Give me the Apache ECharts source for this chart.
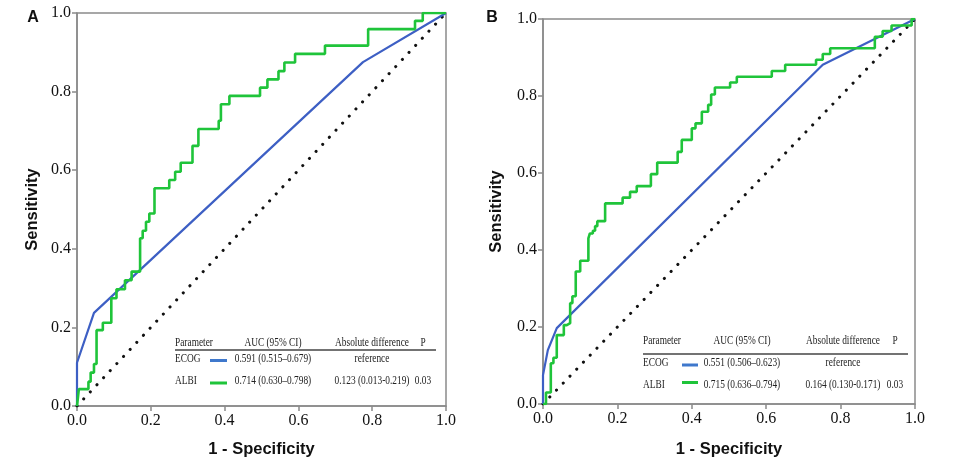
<!DOCTYPE html>
<html><head><meta charset="utf-8">
<script src="https://cdn.jsdelivr.net/npm/echarts@6/dist/echarts.min.js"></script>
<style>html,body{margin:0;padding:0;background:#fff}#c{width:960px;height:473px}</style>
</head><body><div id="c"></div>
<script>
const panelLabels = ['A', 'B'];
const tickLabels = ['0.0', '0.2', '0.4', '0.6', '0.8', '1.0'];
const xTitle = '1 - Specificity';
const yTitle = 'Sensitivity';

const ecogA = [[0,0],[0,0.11],[0.046,0.237],[0.775,0.875],[1,1]];
const albiA = [[0,0],[0.005,0.043],[0.031,0.062],[0.037,0.085],[0.046,0.107],[0.053,0.193],
  [0.07,0.212],[0.093,0.274],[0.107,0.297],[0.13,0.32],[0.148,0.342],[0.171,0.427],
  [0.178,0.446],[0.187,0.469],[0.196,0.49],[0.21,0.554],[0.25,0.575],[0.266,0.596],
  [0.281,0.619],[0.313,0.662],[0.329,0.705],[0.384,0.726],[0.39,0.768],[0.413,0.789],
  [0.496,0.81],[0.516,0.831],[0.546,0.852],[0.562,0.874],[0.591,0.896],[0.672,0.917],
  [0.789,0.959],[0.916,0.98],[0.937,1.0],[1,1]];
const ecogB = [[0,0],[0,0.075],[0.013,0.14],[0.037,0.197],[0.752,0.881],[1,1]];
const albiB = [[0,0],[0.008,0.03],[0.021,0.106],[0.028,0.12],[0.037,0.179],[0.056,0.205],
  [0.064,0.21],[0.073,0.262],[0.079,0.28],[0.088,0.344],[0.1,0.372],[0.122,0.43],
  [0.126,0.443],[0.134,0.45],[0.14,0.462],[0.146,0.475],[0.167,0.521],[0.214,0.536],
  [0.234,0.551],[0.252,0.566],[0.29,0.597],[0.307,0.627],[0.362,0.655],[0.373,0.686],
  [0.4,0.716],[0.41,0.729],[0.427,0.759],[0.444,0.777],[0.452,0.804],[0.462,0.822],
  [0.503,0.835],[0.521,0.85],[0.615,0.865],[0.651,0.881],[0.734,0.894],[0.752,0.909],
  [0.772,0.924],[0.892,0.954],[0.913,0.969],[0.937,0.983],[0.991,1.0],[1,1]];
const refLine = [[0,0],[1,1]];

const tableHeader = ['Parameter', 'AUC (95% CI)', 'Absolute difference', 'P'];
const tableA = [['ECOG', '0.591 (0.515–0.679)', 'reference', ''],
                ['ALBI', '0.714 (0.630–0.798)', '0.123 (0.013-0.219)', '0.03']];
const tableB = [['ECOG', '0.551 (0.506–0.623)', 'reference', ''],
                ['ALBI', '0.715 (0.636–0.794)', '0.164 (0.130-0.171)', '0.03']];

const BLUE = '#3d5fc4', GREEN = '#1fc43a', AXC = '#8a8a8a';
const SERIF = '"Liberation Serif", "Times New Roman", serif';
const SANS = '"Liberation Sans", Arial, sans-serif';

const grids = [
  {left: 77, top: 13, width: 369, height: 393},
  {left: 543, top: 19, width: 372, height: 385}
].map(g => Object.assign(g, {show: true, borderColor: AXC, borderWidth: 1.5, backgroundColor: 'transparent'}));

const fmt = v => tickLabels[Math.round(v * 5)];

function xAx(i, gap) {
  return {type: 'value', gridIndex: i, min: 0, max: 1, interval: 0.2,
    name: xTitle, nameLocation: 'middle', nameGap: gap,
    nameTextStyle: {fontFamily: SANS, fontWeight: 'bold', fontSize: 16.5, color: '#111'},
    axisLine: {show: true, onZero: false, lineStyle: {color: AXC, width: 1.5}},
    axisTick: {show: true, length: 5, lineStyle: {color: AXC, width: 1.5}},
    axisLabel: {fontFamily: SERIF, fontSize: 16, color: '#111', margin: 7, formatter: fmt},
    splitLine: {show: false}};
}
function yAx(i, gap) {
  return {type: 'value', gridIndex: i, min: 0, max: 1, interval: 0.2,
    name: yTitle, nameLocation: 'middle', nameGap: gap,
    nameTextStyle: {fontFamily: SANS, fontWeight: 'bold', fontSize: 16.5, color: '#111'},
    axisLine: {show: true, onZero: false, lineStyle: {color: AXC, width: 1.5}},
    axisTick: {show: true, length: 5, lineStyle: {color: AXC, width: 1.5}},
    axisLabel: {fontFamily: SERIF, fontSize: 16, color: '#111', margin: 6, formatter: fmt},
    splitLine: {show: false}};
}

function seriesFor(i, ecog, albi) {
  return [
    {type: 'line', xAxisIndex: i, yAxisIndex: i, data: refLine, symbol: 'none', silent: true, z: 2,
      lineStyle: {color: '#111', width: 3, type: [0.1, 9.6], cap: 'round'}},
    {type: 'line', xAxisIndex: i, yAxisIndex: i, data: ecog, symbol: 'none', z: 3,
      lineStyle: {color: BLUE, width: 2.2}},
    {type: 'line', xAxisIndex: i, yAxisIndex: i, data: albi, step: 'end', symbol: 'none', z: 4,
      lineStyle: {color: GREEN, width: 2.6}}
  ];
}

function txt(x, y, s, align) {
  return {type: 'text', x: x, y: y, scaleX: 0.72, z: 10,
    style: {text: s, fontFamily: SERIF, fontSize: 13, fill: '#222', align: align, verticalAlign: 'middle'}};
}
function makeTable(rows, p) {
  const els = [];
  els.push(txt(p.x0, p.yHead, tableHeader[0], 'left'));
  els.push(txt(p.xAuc, p.yHead, tableHeader[1], 'center'));
  els.push(txt(p.xDiff, p.yHead, tableHeader[2], 'center'));
  els.push(txt(p.xP, p.yHead, tableHeader[3], 'center'));
  els.push({type: 'line', z: 10, shape: {x1: p.x0, y1: p.yRule, x2: p.ruleEnd, y2: p.yRule},
    style: {stroke: '#444', lineWidth: 1.4}});
  rows.forEach((r, k) => {
    els.push(txt(p.x0, p.rowY[k], r[0], 'left'));
    els.push({type: 'line', z: 10, shape: {x1: p.sw[0], y1: p.swY[k], x2: p.sw[1], y2: p.swY[k]},
      style: {stroke: k === 0 ? '#3f78cc' : GREEN, lineWidth: 3}});
    els.push(txt(p.xAuc, p.rowY[k], r[1], 'center'));
    els.push(txt(p.xDiff, p.rowY[k], r[2], 'center'));
    if (r[3]) els.push(txt(p.xP, p.rowY[k], r[3], 'center'));
  });
  return els;
}

const graphics = [
  {type: 'text', x: 33, y: 18, style: {text: panelLabels[0], fontFamily: SANS, fontWeight: 'bold', fontSize: 16, fill: '#111', align: 'center', verticalAlign: 'middle'}},
  {type: 'text', x: 492, y: 18, style: {text: panelLabels[1], fontFamily: SANS, fontWeight: 'bold', fontSize: 16, fill: '#111', align: 'center', verticalAlign: 'middle'}}
].concat(
  makeTable(tableA, {x0: 175, xAuc: 273, xDiff: 372, xP: 423, yHead: 343, yRule: 350, ruleEnd: 436,
    rowY: [358.5, 381], sw: [210, 227], swY: [360.5, 383]}),
  makeTable(tableB, {x0: 643, xAuc: 742, xDiff: 843, xP: 895, yHead: 341, yRule: 354, ruleEnd: 908,
    rowY: [362.5, 384.5], sw: [682, 698], swY: [365, 382.5]})
);

const chart = echarts.init(document.getElementById('c'), null, {renderer: 'canvas'});
chart.setOption({
  animation: false,
  backgroundColor: '#fff',
  grid: grids,
  xAxis: [xAx(0, 35), xAx(1, 37)],
  yAxis: [yAx(0, 36), yAx(1, 38)],
  series: seriesFor(0, ecogA, albiA).concat(seriesFor(1, ecogB, albiB)),
  graphic: graphics
});
</script>
</body></html>
